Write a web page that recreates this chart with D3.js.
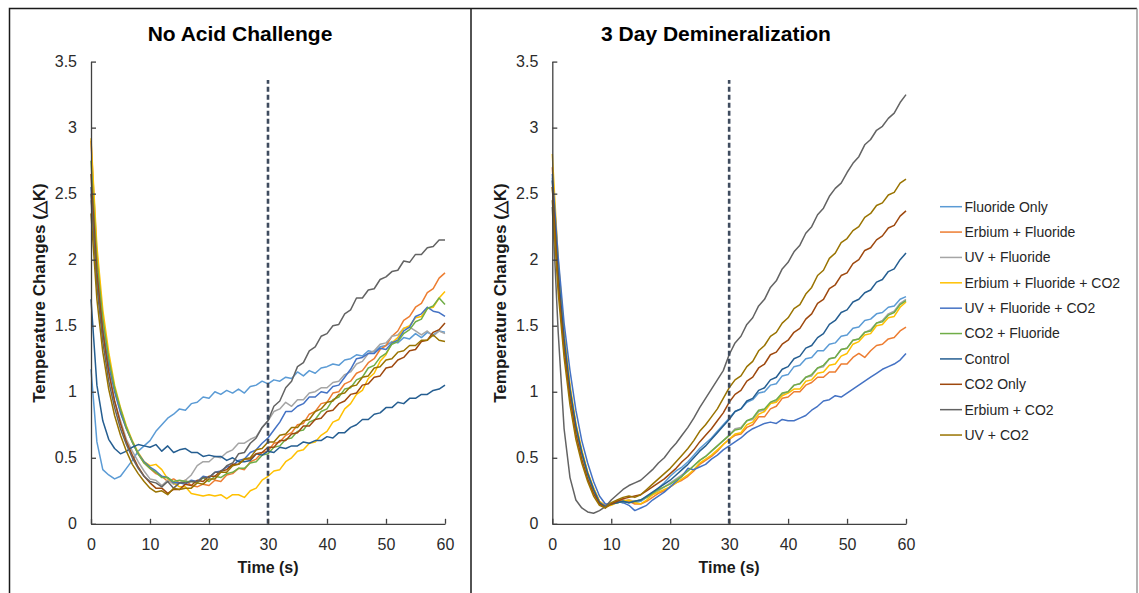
<!DOCTYPE html>
<html>
<head>
<meta charset="utf-8">
<script src="https://cdn.jsdelivr.net/npm/d3@7"></script>
<style>
  html, body { margin: 0; padding: 0; background: #fff; }
  svg { display: block; font-family: "Liberation Sans", Arial, sans-serif; }
</style>
</head>
<body>
<svg id="chart" width="1139" height="593"></svg>
<script>
// ---------------- DATA ----------------
const times = d3.range(0, 61, 1); // seconds 0..60
const xTicks = [0, 10, 20, 30, 40, 50, 60];
const yTicks = [0, 0.5, 1, 1.5, 2, 2.5, 3, 3.5];
const yTickLabels = ["0", "0.5", "1", "1.5", "2", "2.5", "3", "3.5"];
const panelTitles = ["No Acid Challenge", "3 Day Demineralization"];
const xAxisTitle = "Time (s)";
const yAxisTitle = "Temperature Changes (\u25B3K)";
const challengeTime = 30;

const seriesNames = ["Fluoride Only", "Erbium + Fluoride", "UV + Fluoride", "Erbium + Fluoride + CO2",
  "UV + Fluoride + CO2", "CO2 + Fluoride", "Control", "CO2 Only", "Erbium + CO2", "UV + CO2"];
const seriesColors = ["#5B9BD5", "#ED7D31", "#A5A5A5", "#FFC000", "#4472C4",
  "#70AD47", "#255E91", "#9E480E", "#636363", "#997300"];

// ---- No Acid Challenge ----
const naFluorideOnly = [1.17,0.62,0.41,0.37,0.34,0.36,0.42,0.48,0.55,0.59,0.63,
  0.70,0.75,0.80,0.83,0.87,0.86,0.91,0.92,0.96,0.95,
  1.00,0.98,1.01,0.99,1.02,0.99,1.04,1.05,1.08,1.06,
  1.09,1.08,1.11,1.10,1.15,1.12,1.16,1.14,1.18,1.19,
  1.21,1.20,1.24,1.25,1.28,1.27,1.31,1.30,1.34,1.35,
  1.38,1.37,1.41,1.40,1.44,1.41,1.45,1.43,1.46,1.45];
const naErbiumFluoride = [2.90,2.05,1.55,1.25,1.02,0.85,0.72,0.62,0.53,0.46,0.42,
  0.38,0.36,0.32,0.34,0.31,0.33,0.29,0.28,0.30,0.29,
  0.33,0.32,0.37,0.38,0.42,0.41,0.47,0.49,0.54,0.55,
  0.61,0.62,0.67,0.69,0.75,0.76,0.83,0.85,0.91,0.92,
  0.99,1.00,1.06,1.08,1.14,1.16,1.22,1.25,1.32,1.35,
  1.42,1.46,1.54,1.57,1.64,1.67,1.75,1.78,1.86,1.90];
const naUVFluoride = [2.45,1.85,1.45,1.15,0.93,0.78,0.64,0.55,0.47,0.40,0.34,
  0.33,0.29,0.33,0.30,0.31,0.33,0.37,0.44,0.47,0.47,
  0.51,0.50,0.54,0.56,0.61,0.61,0.64,0.66,0.73,0.78,
  0.85,0.87,0.92,0.89,0.94,0.94,0.99,1.00,1.03,1.03,
  1.07,1.08,1.13,1.15,1.21,1.23,1.29,1.31,1.36,1.37,
  1.42,1.43,1.48,1.49,1.46,1.43,1.46,1.42,1.46,1.44];
const naErbiumFluorideCO2 = [2.92,2.10,1.62,1.30,1.05,0.88,0.74,0.63,0.54,0.47,0.44,
  0.45,0.41,0.34,0.31,0.28,0.28,0.23,0.22,0.21,0.22,
  0.21,0.22,0.19,0.22,0.22,0.20,0.25,0.27,0.33,0.36,
  0.40,0.41,0.47,0.50,0.55,0.56,0.61,0.62,0.67,0.70,
  0.77,0.79,0.87,0.91,0.98,1.01,1.10,1.14,1.23,1.28,
  1.37,1.41,1.48,1.50,1.56,1.57,1.63,1.64,1.71,1.76];
const naUVFluorideCO2 = [2.55,1.90,1.48,1.20,1.00,0.84,0.72,0.62,0.53,0.47,0.43,
  0.40,0.36,0.35,0.31,0.31,0.30,0.33,0.32,0.36,0.35,
  0.39,0.40,0.43,0.44,0.48,0.49,0.54,0.56,0.61,0.65,
  0.71,0.77,0.85,0.85,0.89,0.91,0.96,0.96,1.00,0.99,
  1.04,1.05,1.11,1.17,1.25,1.26,1.29,1.29,1.33,1.32,
  1.37,1.39,1.46,1.49,1.57,1.59,1.64,1.61,1.60,1.57];
const naCO2Fluoride = [2.75,2.00,1.55,1.25,1.03,0.87,0.73,0.62,0.53,0.46,0.42,
  0.39,0.35,0.35,0.32,0.33,0.32,0.32,0.31,0.35,0.32,
  0.36,0.35,0.38,0.39,0.42,0.42,0.46,0.47,0.52,0.53,
  0.58,0.59,0.64,0.65,0.70,0.71,0.77,0.79,0.85,0.87,
  0.94,0.96,1.02,1.03,1.09,1.11,1.18,1.20,1.26,1.29,
  1.36,1.38,1.44,1.47,1.53,1.55,1.63,1.65,1.71,1.66];
const naControl = [1.70,1.05,0.78,0.64,0.57,0.53,0.55,0.58,0.60,0.59,0.58,
  0.60,0.55,0.59,0.54,0.56,0.57,0.54,0.54,0.51,0.52,
  0.51,0.51,0.48,0.50,0.47,0.47,0.48,0.53,0.52,0.55,
  0.54,0.58,0.57,0.59,0.59,0.62,0.61,0.63,0.63,0.66,
  0.65,0.69,0.69,0.73,0.75,0.79,0.79,0.83,0.84,0.88,
  0.88,0.92,0.91,0.95,0.95,0.98,0.98,1.01,1.02,1.05];
const naCO2Only = [2.65,1.90,1.45,1.15,0.93,0.76,0.62,0.52,0.43,0.36,0.31,
  0.27,0.27,0.23,0.26,0.26,0.30,0.29,0.33,0.32,0.36,
  0.36,0.40,0.41,0.45,0.45,0.49,0.49,0.53,0.54,0.58,
  0.58,0.63,0.63,0.68,0.69,0.74,0.74,0.79,0.80,0.85,
  0.86,0.91,0.93,0.98,0.99,1.05,1.06,1.11,1.12,1.18,
  1.19,1.24,1.26,1.31,1.32,1.38,1.39,1.45,1.47,1.52];
const naErbiumCO2 = [2.50,1.80,1.38,1.08,0.88,0.72,0.60,0.50,0.42,0.36,0.32,
  0.31,0.28,0.32,0.27,0.31,0.31,0.32,0.32,0.35,0.35,
  0.39,0.39,0.44,0.46,0.53,0.54,0.61,0.65,0.73,0.78,
  0.89,0.93,1.03,1.08,1.19,1.22,1.31,1.34,1.42,1.44,
  1.50,1.51,1.59,1.62,1.71,1.71,1.77,1.78,1.85,1.87,
  1.91,1.92,1.99,1.98,2.04,2.04,2.09,2.10,2.15,2.15];
const naUVCO2 = [2.35,1.70,1.30,1.02,0.82,0.67,0.55,0.45,0.38,0.32,0.27,
  0.24,0.25,0.22,0.27,0.26,0.27,0.27,0.31,0.30,0.34,
  0.34,0.39,0.39,0.44,0.45,0.49,0.50,0.56,0.57,0.62,
  0.62,0.67,0.68,0.73,0.73,0.78,0.79,0.85,0.87,0.92,
  0.93,0.98,0.99,1.04,1.05,1.11,1.12,1.18,1.19,1.24,
  1.25,1.30,1.31,1.35,1.35,1.39,1.39,1.43,1.39,1.38];

// ---- 3 Day Demineralization ----
const dmFluorideOnly = [2.62,1.90,1.40,1.02,0.74,0.54,0.38,0.26,0.17,0.13,0.15,
  0.17,0.16,0.17,0.16,0.17,0.20,0.23,0.27,0.31,0.36,
  0.40,0.43,0.47,0.52,0.57,0.61,0.65,0.70,0.75,0.80,
  0.85,0.87,0.92,0.94,0.99,1.00,1.05,1.06,1.12,1.13,
  1.19,1.20,1.25,1.26,1.31,1.31,1.36,1.37,1.42,1.43,
  1.48,1.49,1.54,1.55,1.59,1.60,1.64,1.65,1.70,1.72];
const dmErbiumFluoride = [2.70,1.95,1.42,1.03,0.75,0.55,0.39,0.27,0.17,0.14,0.15,
  0.17,0.18,0.17,0.15,0.15,0.17,0.20,0.23,0.25,0.28,
  0.31,0.33,0.36,0.40,0.45,0.48,0.51,0.55,0.60,0.64,
  0.67,0.68,0.73,0.75,0.81,0.81,0.87,0.89,0.95,0.96,
  1.00,1.00,1.05,1.07,1.11,1.11,1.15,1.15,1.21,1.21,
  1.26,1.29,1.26,1.31,1.35,1.36,1.40,1.41,1.46,1.49];
const dmUVFluoride = [2.60,1.85,1.36,0.99,0.72,0.53,0.37,0.25,0.16,0.13,0.15,
  0.16,0.17,0.18,0.17,0.18,0.20,0.22,0.25,0.28,0.31,
  0.34,0.37,0.40,0.44,0.48,0.51,0.55,0.59,0.63,0.67,
  0.72,0.73,0.78,0.79,0.85,0.86,0.91,0.93,0.98,1.00,
  1.05,1.06,1.11,1.12,1.18,1.19,1.25,1.26,1.32,1.33,
  1.39,1.40,1.45,1.47,1.52,1.54,1.59,1.61,1.67,1.70];
const dmErbiumFluorideCO2 = [2.80,2.00,1.45,1.05,0.76,0.56,0.39,0.27,0.17,0.13,0.14,
  0.16,0.17,0.18,0.16,0.15,0.18,0.22,0.24,0.26,0.28,
  0.31,0.34,0.37,0.41,0.46,0.49,0.52,0.56,0.60,0.64,
  0.68,0.69,0.75,0.77,0.83,0.85,0.91,0.92,0.97,0.99,
  1.02,1.02,1.08,1.09,1.14,1.15,1.20,1.21,1.27,1.29,
  1.36,1.38,1.43,1.44,1.50,1.51,1.56,1.57,1.64,1.68];
const dmUVFluorideCO2 = [2.65,2.02,1.52,1.16,0.86,0.63,0.46,0.32,0.21,0.15,0.15,
  0.17,0.16,0.14,0.10,0.12,0.14,0.18,0.21,0.24,0.28,
  0.32,0.36,0.42,0.41,0.43,0.45,0.49,0.52,0.56,0.59,
  0.62,0.65,0.69,0.72,0.74,0.76,0.77,0.76,0.79,0.78,
  0.78,0.80,0.82,0.86,0.89,0.93,0.94,0.97,0.96,0.99,
  1.02,1.05,1.08,1.11,1.14,1.17,1.19,1.21,1.24,1.29];
const dmCO2Fluoride = [2.55,1.86,1.38,1.00,0.73,0.54,0.38,0.26,0.16,0.13,0.15,
  0.16,0.17,0.16,0.17,0.18,0.20,0.23,0.26,0.28,0.30,
  0.33,0.36,0.40,0.44,0.48,0.51,0.55,0.59,0.63,0.67,
  0.71,0.72,0.78,0.80,0.86,0.87,0.92,0.94,0.99,1.00,
  1.05,1.06,1.11,1.13,1.18,1.20,1.25,1.26,1.32,1.33,
  1.39,1.40,1.45,1.46,1.52,1.53,1.58,1.60,1.66,1.69];
const dmControl = [2.60,1.90,1.40,1.02,0.74,0.54,0.38,0.26,0.16,0.13,0.15,
  0.16,0.17,0.16,0.17,0.18,0.21,0.24,0.27,0.30,0.33,
  0.37,0.41,0.45,0.50,0.55,0.59,0.64,0.69,0.74,0.79,
  0.85,0.87,0.93,0.95,1.01,1.03,1.09,1.11,1.17,1.19,
  1.25,1.27,1.33,1.35,1.41,1.44,1.51,1.54,1.60,1.62,
  1.68,1.70,1.75,1.77,1.83,1.85,1.91,1.93,2.00,2.05];
const dmCO2Only = [2.55,1.82,1.32,0.95,0.68,0.49,0.34,0.23,0.15,0.12,0.15,
  0.17,0.19,0.20,0.21,0.22,0.25,0.28,0.31,0.34,0.38,
  0.42,0.47,0.51,0.56,0.62,0.67,0.72,0.78,0.84,0.92,
  0.98,1.01,1.08,1.11,1.18,1.21,1.28,1.30,1.36,1.39,
  1.45,1.48,1.55,1.59,1.67,1.70,1.78,1.81,1.88,1.90,
  1.97,2.00,2.07,2.09,2.15,2.18,2.24,2.26,2.33,2.37];
const dmErbiumCO2 = [2.40,1.45,0.72,0.35,0.18,0.12,0.09,0.08,0.10,0.13,0.18,
  0.22,0.26,0.29,0.31,0.33,0.37,0.41,0.46,0.50,0.56,
  0.61,0.67,0.73,0.80,0.88,0.95,1.02,1.09,1.16,1.28,
  1.37,1.42,1.51,1.56,1.65,1.70,1.79,1.84,1.93,1.98,
  2.06,2.11,2.20,2.25,2.34,2.39,2.48,2.54,2.58,2.66,
  2.73,2.78,2.87,2.91,2.98,3.01,3.07,3.11,3.19,3.25];
const dmUVCO2 = [2.45,1.75,1.26,0.90,0.64,0.46,0.32,0.21,0.14,0.12,0.16,
  0.18,0.20,0.21,0.20,0.22,0.26,0.30,0.34,0.38,0.42,
  0.47,0.52,0.57,0.63,0.70,0.75,0.81,0.87,0.95,1.03,
  1.09,1.12,1.19,1.23,1.31,1.35,1.42,1.45,1.52,1.56,
  1.63,1.66,1.74,1.79,1.88,1.92,2.01,2.05,2.13,2.16,
  2.22,2.25,2.32,2.35,2.41,2.43,2.49,2.51,2.58,2.61];

const noAcidSeries = [naFluorideOnly, naErbiumFluoride, naUVFluoride, naErbiumFluorideCO2,
  naUVFluorideCO2, naCO2Fluoride, naControl, naCO2Only, naErbiumCO2, naUVCO2];
const deminSeries = [dmFluorideOnly, dmErbiumFluoride, dmUVFluoride, dmErbiumFluorideCO2,
  dmUVFluorideCO2, dmCO2Fluoride, dmControl, dmCO2Only, dmErbiumCO2, dmUVCO2];

// ---------------- DRAW ----------------
const svg = d3.select("#chart");
svg.append("rect").attr("width", 1139).attr("height", 593).attr("fill", "#fff");

// panel frames
svg.append("path").attr("d", "M9.5,600 V8.5 H1137 ")
  .attr("fill", "none").attr("stroke", "#1a1a1a").attr("stroke-width", 1.5);
svg.append("line").attr("x1", 471).attr("x2", 471).attr("y1", 8.5).attr("y2", 600)
  .attr("stroke", "#1a1a1a").attr("stroke-width", 1.5);
svg.append("line").attr("x1", 1137).attr("x2", 1137).attr("y1", 8.5).attr("y2", 600)
  .attr("stroke", "#9a9a9a").attr("stroke-width", 1.5);

const panels = [
  { x0: 91, x1: 445, titleX: 240, ylabX: 39, data: noAcidSeries },
  { x0: 552.3, x1: 906, titleX: 716, ylabX: 500.5, data: deminSeries }
];
const yTop = 61.6, yBot = 523.8;

panels.forEach((p, pi) => {
  const x = d3.scaleLinear().domain([0, 60]).range([p.x0, p.x1]);
  const y = d3.scaleLinear().domain([0, 3.5]).range([yBot, yTop]);
  const g = svg.append("g");

  // title
  g.append("text").attr("x", p.titleX).attr("y", 41).attr("text-anchor", "middle")
    .attr("font-size", 21).attr("font-weight", "bold").attr("fill", "#000")
    .text(panelTitles[pi]);

  // lines
  const line = d3.line().x((d, i) => x(times[i])).y(d => y(d));
  p.data.forEach((vals, si) => {
    g.append("path").datum(vals).attr("d", line)
      .attr("fill", "none").attr("stroke", seriesColors[si])
      .attr("stroke-width", 1.5).attr("stroke-linejoin", "round");
  });

  // dashed line at 30 s
  g.append("line").attr("x1", x(challengeTime)).attr("x2", x(challengeTime))
    .attr("y1", y(0)).attr("y2", y(3.36))
    .attr("stroke", "#3E4B5E").attr("stroke-width", 2.6).attr("stroke-dasharray", "5,3");

  // axes
  const yAxis = d3.axisLeft(y).tickValues(yTicks).tickFormat((d, i) => yTickLabels[i])
    .tickSizeInner(-5).tickSizeOuter(0).tickPadding(14);
  const xAxis = d3.axisBottom(x).tickValues(xTicks).tickFormat(d3.format("d"))
    .tickSizeInner(-5).tickSizeOuter(0).tickPadding(15);
  const ya = g.append("g").attr("transform", `translate(${p.x0},0)`).call(yAxis);
  const xa = g.append("g").attr("transform", `translate(0,${yBot})`).call(xAxis);
  [ya, xa].forEach(a => {
    a.select(".domain").attr("stroke", "#404040").attr("stroke-width", 1.3);
    a.selectAll(".tick line").attr("stroke", "#404040").attr("stroke-width", 1.3);
    a.selectAll(".tick text").attr("font-size", 16).attr("fill", "#2b2b2b")
      .attr("font-family", "Liberation Sans, Arial, sans-serif");
  });

  // axis titles
  g.append("text").attr("x", (p.x0 + p.x1) / 2).attr("y", 567).attr("dy", "0.35em")
    .attr("text-anchor", "middle").attr("font-size", 16).attr("font-weight", "bold")
    .attr("fill", "#1a1a1a").text(xAxisTitle);
  g.append("text").attr("transform", `translate(${p.ylabX},293) rotate(-90)`)
    .attr("dy", "0.35em").attr("text-anchor", "middle").attr("font-size", 17)
    .attr("font-weight", "bold").attr("fill", "#1a1a1a").text(yAxisTitle);
});

// legend
const legend = svg.append("g");
seriesNames.forEach((name, i) => {
  const yy = 206.7 + i * 25.37;
  legend.append("line").attr("x1", 940).attr("x2", 962).attr("y1", yy).attr("y2", yy)
    .attr("stroke", seriesColors[i]).attr("stroke-width", 1.5);
  legend.append("text").attr("x", 964.5).attr("y", yy).attr("dy", "0.35em")
    .attr("font-size", 14).attr("fill", "#262626").text(name);
});
</script>
</body>
</html>
